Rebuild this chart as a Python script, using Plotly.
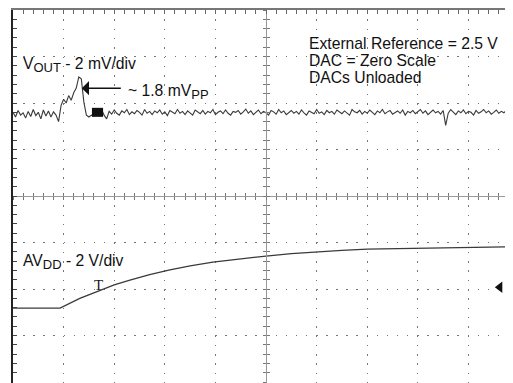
import numpy as np
import plotly.graph_objects as go

# scope screen in divisions: 10 across (right edge cut off), 8 high
# VOUT trace (2 mV/div), sampled every 0.05 div
vout = [
    5.80, 5.70, 5.84, 5.74, 5.79, 5.68, 5.82, 5.71, 5.86, 5.73,
    5.80, 5.66, 5.85, 5.72, 5.83, 5.70, 5.81, 5.74,
    5.60, 5.95, 6.08, 6.00, 6.16, 6.06, 6.22, 6.32, 6.56, 6.52,
    6.02, 5.74, 5.70, 5.74, 5.72, 5.86, 5.72, 5.86, 5.74, 5.66,
    5.82, 5.76, 5.85, 5.78, 5.74, 5.83, 5.79, 5.86, 5.75, 5.81,
    5.77, 5.84, 5.80, 5.74, 5.86, 5.78, 5.82, 5.75, 5.83, 5.79,
    5.85, 5.76, 5.81, 5.73, 5.84, 5.80, 5.77, 5.86, 5.78, 5.82,
    5.75, 5.83, 5.79, 5.74, 5.85, 5.81, 5.77, 5.84, 5.76, 5.82,
    5.79, 5.86, 5.75, 5.80, 5.83, 5.77, 5.85, 5.78, 5.74, 5.82,
    5.80, 5.84, 5.76, 5.81, 5.87, 5.78, 5.83, 5.75, 5.80, 5.85,
    5.77, 5.82, 5.79, 5.74, 5.84, 5.81, 5.76, 5.86, 5.79, 5.83,
    5.75, 5.80, 5.84, 5.78, 5.82, 5.76, 5.85, 5.79, 5.74, 5.83,
    5.80, 5.77, 5.86, 5.78, 5.81, 5.75, 5.84, 5.79, 5.82, 5.76,
    5.85, 5.80, 5.77, 5.83, 5.78, 5.74, 5.86, 5.81, 5.79, 5.84,
    5.76, 5.82, 5.78, 5.85, 5.80, 5.75, 5.83, 5.79, 5.86, 5.77,
    5.81, 5.84, 5.76, 5.80, 5.83, 5.78, 5.85, 5.74, 5.82, 5.79,
    5.84, 5.77, 5.81, 5.86, 5.78, 5.83, 5.75, 5.80, 5.85, 5.79,
    5.82, 5.76, 5.84, 5.52, 5.78, 5.86, 5.81, 5.75, 5.83, 5.79,
    5.85, 5.77, 5.82, 5.80, 5.74, 5.84, 5.78, 5.81, 5.86, 5.79,
    5.83, 5.76, 5.80, 5.85, 5.78, 5.82, 5.79, 5.84, 5.77, 5.81,
    5.80,
]
vout_t = np.arange(len(vout)) * 0.05

# AVDD ramp (2 V/div)
avdd_t = [0, 0.93, 1.32, 1.72, 2.0, 2.31, 2.7, 3.1, 3.5, 3.95, 4.5, 5.0,
          5.5, 5.99, 6.5, 7.0, 7.5, 8.0, 9.0, 9.9]
avdd = [1.59, 1.59, 1.80, 1.98, 2.09, 2.19, 2.31, 2.41, 2.50, 2.58, 2.65, 2.71,
        2.76, 2.80, 2.83, 2.86, 2.87, 2.88, 2.90, 2.91]

# dense blob on VOUT just after the glitch
blob_t = [1.56, 1.78]
blob_v = [5.80, 5.80]

# trigger level marker (divisions)
trig_t = [9.62]
trig_level = [2.04]

XR = [0, 9.88]
YR = [-0.02, 8.0]
FONT = "Liberation Sans, Arial, sans-serif"

fig = go.Figure()
fig.add_trace(go.Scatter(x=vout_t, y=vout, mode="lines",
                         line=dict(color="#3a3a3a", width=1.1), hoverinfo="skip"))
fig.add_trace(go.Scatter(x=avdd_t, y=avdd, mode="lines", xaxis="x2", yaxis="y2",
                         line=dict(color="#3a3a3a", width=1.3), hoverinfo="skip"))
fig.add_trace(go.Scatter(x=blob_t, y=blob_v, mode="lines", xaxis="x3", yaxis="y3",
                         line=dict(color="#111111", width=9), hoverinfo="skip"))
fig.add_trace(go.Scatter(x=trig_t, y=trig_level, mode="markers", cliponaxis=False,
                         marker=dict(symbol="triangle-left", size=10, color="#111"),
                         hoverinfo="skip"))

minor_x = dict(dtick=0.2, ticks="inside", ticklen=4, tickcolor="#666", showgrid=False)
minor_y = dict(dtick=0.2, ticks="inside", ticklen=4, tickcolor="#444", showgrid=False)
centre_out = dict(dtick=0.2, ticks="outside", ticklen=3, tickcolor="#777")
centre_in = dict(dtick=0.2, ticks="inside", ticklen=3, tickcolor="#777")
mid_y = 0.02 / 8.02 + 0.5 * 8 / 8.02

# the page body has an 8px margin, so the figure is 8px smaller each way
fig.update_layout(
    width=505, height=375,
    margin=dict(l=5, r=0, t=2, b=0, pad=0),
    paper_bgcolor="white", plot_bgcolor="white",
    showlegend=False,
    font=dict(family=FONT, size=15.7, color="#111"),
    xaxis=dict(range=XR, side="top", dtick=1, tick0=0, showticklabels=False,
               automargin=False,
               showline=True, linecolor="#777", linewidth=1.5,
               ticks="inside", ticklen=4, tickcolor="#666", minor=minor_x,
               showgrid=True, gridcolor="#777", gridwidth=1, griddash="1.5px,7.8px",
               zeroline=False),
    yaxis=dict(range=YR, dtick=1, tick0=0, showticklabels=False,
               automargin=False,
               showline=True, linecolor="#222", linewidth=1.5,
               ticks="inside", ticklen=4, tickcolor="#444", minor=minor_y,
               showgrid=True, gridcolor="#777", gridwidth=1, griddash="1.5px,8.6px",
               zeroline=False),
    # centre cross with tick marks on both sides
    xaxis2=dict(range=XR, overlaying="x", anchor="free", position=mid_y,
                automargin=False, showticklabels=False, showgrid=False, zeroline=False,
                showline=True, linecolor="#999", linewidth=1,
                ticks="outside", ticklen=3, tickcolor="#777", dtick=1, minor=centre_out),
    xaxis3=dict(range=XR, overlaying="x", anchor="free", position=mid_y,
                automargin=False, showticklabels=False, showgrid=False, zeroline=False,
                showline=False,
                ticks="inside", ticklen=3, tickcolor="#777", dtick=1, minor=centre_in),
    yaxis2=dict(range=YR, overlaying="y", anchor="free", position=5 / 9.88,
                automargin=False, showticklabels=False, showgrid=False, zeroline=False,
                showline=True, linecolor="#999", linewidth=1,
                ticks="outside", ticklen=3, tickcolor="#777", dtick=1, minor=centre_out),
    yaxis3=dict(range=YR, overlaying="y", anchor="free", position=5 / 9.88,
                automargin=False, showticklabels=False, showgrid=False, zeroline=False,
                showline=False,
                ticks="inside", ticklen=3, tickcolor="#777", dtick=1, minor=centre_in),
)

SUB = "<sub><span style='font-size:13px'>%s</span></sub>"


def label(text, x, y, **kw):
    fig.add_annotation(text=text, x=x, y=y, xref="x", yref="y", showarrow=False,
                       xanchor="left", yanchor="middle", **kw)


label("V" + SUB % "OUT" + " - 2 mV/div", 0.15, 6.82)
label("~ 1.8 mV" + SUB % "PP", 2.24, 6.24)
label("External Reference = 2.5 V", 5.8, 7.29)
label("DAC = Zero Scale", 5.8, 6.92)
label("DACs Unloaded", 5.8, 6.54)
label("AV" + SUB % "DD" + " - 2 V/div", 0.15, 2.58)
label("T", 1.56, 2.09, font=dict(family="Liberation Serif, serif", size=15, color="#222"))

# arrow pointing at the glitch peak
fig.add_annotation(x=1.36, y=6.32, ax=2.16, ay=6.32, xref="x", yref="y",
                   axref="x", ayref="y", text="", showarrow=True,
                   arrowhead=1, arrowsize=1.6, arrowwidth=1.5, arrowcolor="#111")

fig.write_html("out.html")
